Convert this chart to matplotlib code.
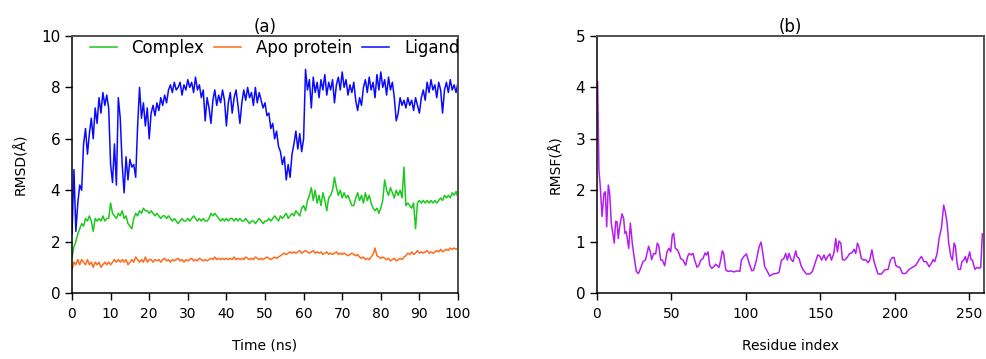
import numpy as np
import matplotlib
matplotlib.use('Agg')
from matplotlib import pyplot as plt
from matplotlib import font_manager

plt.rcParams['font.family'] = ['DejaVu Sans']

# time axis of the RMSD traces (ns), one reading every 0.5 ns
time = np.linspace(0, 100, 201)

# RMSD readings (Angstrom)
ligand = [
    2.3, 4.8, 2.4, 3.5, 4.2, 4.0, 5.8, 6.4, 5.4, 6.2,
    6.8, 6.0, 7.2, 6.6, 7.6, 7.0, 7.8, 7.3, 7.7, 7.2,
    5.0, 4.3, 5.8, 4.2, 7.6, 6.8, 5.0, 3.9, 5.3, 4.4,
    5.2, 4.9, 5.0, 4.5, 6.5, 8.0, 6.8, 7.4, 6.5, 7.2,
    6.0, 7.0, 7.3, 6.9, 7.4, 7.1, 7.6, 7.3, 7.7, 7.4,
    7.9, 8.1, 7.8, 8.2, 7.9, 8.0, 8.2, 7.7, 8.1, 7.9,
    8.3, 8.0, 8.2, 7.8, 8.4, 7.9, 8.1, 7.6, 7.9, 6.7,
    7.6, 7.2, 6.6, 7.5, 7.9, 7.3, 7.7, 7.4, 7.9, 7.5,
    6.5, 7.4, 7.8, 7.0, 7.6, 7.9, 7.3, 6.6, 7.4, 7.9,
    7.5, 8.0, 7.6, 7.8, 7.3, 8.0, 7.4, 7.8, 7.5, 7.2,
    7.4, 6.9, 7.0, 6.4, 6.6, 6.0, 6.3, 5.7, 5.5, 5.0,
    5.3, 4.4, 5.0, 4.5, 5.4, 5.8, 6.3, 5.6, 6.2, 5.5,
    6.0, 8.7, 7.9, 8.3, 7.2, 8.4, 7.8, 8.2, 7.6, 8.3,
    7.9, 8.5, 7.7, 8.2, 7.9, 8.3, 7.4, 8.1, 8.4, 7.9,
    8.6, 8.0, 8.3, 7.7, 8.1, 7.8, 8.2, 7.5, 7.1, 7.6,
    7.3, 8.0, 8.3, 7.8, 8.4, 7.9, 8.2, 7.6, 8.5, 7.9,
    8.6, 8.0, 8.3, 7.7, 8.4, 7.9, 8.2, 7.6, 6.7, 7.0,
    7.6, 7.3, 7.5, 7.2, 7.6, 7.3, 7.5, 7.1, 7.6, 7.3,
    7.0, 7.6, 7.9, 7.5, 8.2, 7.8, 8.3, 7.9, 8.1, 7.6,
    8.2, 7.9, 7.0, 7.9, 8.2, 7.8, 8.3, 7.9, 8.1, 7.8,
    8.2,
]

complex_ = [
    1.4, 1.8, 2.0, 2.3, 2.5, 2.7, 2.6, 2.9, 2.8, 3.0,
    2.8, 2.4, 2.9, 2.8, 2.9, 2.8, 3.0, 2.8, 2.9, 2.9,
    3.5, 3.1, 3.0, 2.9, 3.1, 3.0, 3.2, 2.9, 3.0, 2.7,
    2.6, 2.5, 2.9, 3.1, 3.0, 3.2, 3.1, 3.3, 3.2, 3.2,
    3.1, 3.2, 3.1, 3.0, 3.1, 3.0, 2.9, 3.0, 3.0, 2.9,
    3.0, 2.9, 2.8, 2.9, 2.8, 2.7, 2.8, 2.9, 2.8, 2.8,
    2.9, 2.8, 2.9, 3.0, 2.9, 2.8, 2.9, 2.8, 2.9, 2.8,
    2.8, 2.9, 3.1, 3.0, 3.1, 3.0, 2.9, 2.8, 2.9, 2.8,
    2.9, 2.8, 2.9, 2.9, 2.8, 2.9, 2.8, 2.9, 2.8, 2.8,
    2.9, 2.8, 2.7, 2.8, 2.8, 2.7, 2.8, 2.9, 2.8, 2.7,
    2.8, 2.8, 2.9, 2.8, 2.9, 3.0, 2.9, 2.8, 3.0, 2.9,
    3.0, 3.1, 2.9, 3.0, 3.1, 3.0, 3.2, 3.1, 3.0, 3.3,
    3.4, 3.2, 3.6, 3.8, 4.1, 3.6, 4.0, 3.5, 3.8, 3.4,
    3.9, 3.6, 3.2, 3.7, 3.8, 4.0, 4.5, 4.1, 3.8, 4.0,
    3.7, 3.9, 3.7, 3.8, 3.6, 3.4, 3.4, 3.7, 3.9, 3.6,
    3.8, 3.5, 3.9, 3.6, 3.8, 3.5, 3.3, 3.2, 3.3, 3.1,
    3.3, 3.6, 4.4, 4.0, 3.8, 4.1, 3.9, 3.7, 4.0, 3.8,
    4.0, 3.7, 4.9, 3.4, 3.5, 3.4, 3.3, 3.5, 2.5, 3.5,
    3.6, 3.5, 3.6, 3.5, 3.6, 3.5, 3.6, 3.5, 3.6, 3.5,
    3.6, 3.7, 3.6, 3.8, 3.7, 3.8, 3.7, 3.9, 3.8, 3.95,
    3.7,
]

apo = [
    0.9, 1.2, 1.1, 1.3, 1.1, 1.3, 1.2, 1.1, 1.3, 1.1,
    1.2, 1.0, 1.2, 1.1, 1.2, 1.0, 1.1, 1.2, 1.1, 1.2,
    1.1, 1.2, 1.3, 1.2, 1.3, 1.2, 1.3, 1.2, 1.3, 1.1,
    1.2, 1.3, 1.2, 1.4, 1.3, 1.2, 1.3, 1.2, 1.4, 1.2,
    1.3, 1.3, 1.2, 1.3, 1.25, 1.3, 1.2, 1.3, 1.35, 1.25,
    1.3, 1.2, 1.3, 1.25, 1.3, 1.35, 1.25, 1.3, 1.2, 1.3,
    1.25, 1.3, 1.35, 1.25, 1.3, 1.25, 1.35, 1.3, 1.25, 1.3,
    1.25, 1.3, 1.35, 1.3, 1.4, 1.3, 1.35, 1.3, 1.35, 1.3,
    1.35, 1.3, 1.35, 1.3, 1.4, 1.3, 1.35, 1.3, 1.35, 1.3,
    1.4, 1.35, 1.3, 1.35, 1.3, 1.4, 1.35, 1.3, 1.35, 1.3,
    1.35, 1.4, 1.35, 1.3, 1.35, 1.4, 1.35, 1.4, 1.45, 1.5,
    1.55, 1.5, 1.55, 1.6, 1.55, 1.6, 1.55, 1.6, 1.65, 1.55,
    1.6, 1.65, 1.6, 1.55, 1.6, 1.65, 1.55, 1.6, 1.55, 1.6,
    1.5, 1.55, 1.6, 1.5, 1.55, 1.5, 1.55, 1.6, 1.5, 1.55,
    1.5, 1.55, 1.5, 1.45, 1.5, 1.55, 1.5, 1.45, 1.5, 1.4,
    1.35, 1.4, 1.3, 1.35, 1.3, 1.4, 1.5, 1.75, 1.45, 1.4,
    1.35, 1.4, 1.35, 1.3, 1.35, 1.25, 1.3, 1.35, 1.25, 1.3,
    1.35, 1.3, 1.4, 1.45, 1.55, 1.5, 1.6, 1.5, 1.55, 1.65,
    1.55, 1.6, 1.55, 1.6, 1.65, 1.55, 1.6, 1.55, 1.6, 1.65,
    1.6, 1.7, 1.6, 1.65, 1.7, 1.65, 1.75, 1.7, 1.75, 1.7,
    1.75,
]

# RMSF readings: residue position and value (Angstrom)
rmsf_residue = [
    0.4, 1.3, 2.2, 3.4, 4.7, 5.6, 6.5, 7.6, 8.5, 9.6,
    10.8, 11.6, 12.5, 13.4, 14.3, 15.2, 16.8, 17.9, 18.8, 19.7,
    21.3, 22.4, 23.7, 24.9, 26.4, 27.8, 29.3, 30.9, 32.5, 33.8,
    34.7, 35.8, 36.7, 38.1, 39.4, 40.5, 41.4, 42.8, 43.9, 45.5,
    47.0, 48.4, 49.5, 50.6, 51.5, 52.6, 54.0, 55.1, 56.2, 57.8,
    59.6, 60.9, 62.0, 63.4, 64.5, 65.6, 67.2, 68.5, 69.7, 71.2,
    72.6, 73.5, 74.6, 75.7, 77.1, 78.4, 79.7, 80.9, 82.0, 83.1,
    84.2, 85.1, 86.5, 88.0, 90.0, 92.0, 94.0, 96.0, 97.0, 98.6,
    100.4, 102.2, 104.0, 105.3, 107.1, 108.9, 110.2, 111.1, 112.7, 114.3,
    116.0, 118.3, 120.5, 122.3, 123.9, 125.5, 126.8, 127.9, 129.0, 130.4,
    131.7, 133.5, 134.4, 135.8, 137.1, 138.5, 140.7, 143.0, 144.7, 146.5,
    148.3, 149.6, 151.0, 152.5, 153.7, 155.0, 156.4, 157.5, 159.1, 160.4,
    161.5, 162.6, 163.8, 164.9, 166.4, 168.0, 169.8, 171.2, 172.7, 173.8,
    175.0, 176.0, 177.6, 179.2, 180.5, 182.1, 183.2, 184.7, 185.9, 187.3,
    188.8, 191.1, 193.3, 195.6, 197.1, 198.5, 199.6, 200.7, 201.8, 203.4,
    205.2, 207.4, 209.7, 211.9, 214.2, 216.4, 218.0, 219.6, 221.3, 223.1,
    224.7, 225.8, 226.9, 228.5, 229.8, 231.4, 232.9, 234.0, 235.2, 236.3,
    237.7, 238.8, 239.9, 240.8, 241.9, 242.8, 244.2, 245.1, 246.4, 247.5,
    248.4, 249.6, 250.4, 251.3, 252.2, 253.1, 254.0, 255.4, 256.7, 257.8,
    258.9,
]
rmsf_value = [
    4.11, 2.4, 2.07, 1.49, 1.94, 1.97, 1.29, 2.1, 1.94, 1.36,
    1.13, 0.97, 1.39, 1.39, 1.06, 1.29, 1.54, 1.45, 1.16, 1.19,
    0.87, 1.36, 0.97, 0.71, 0.42, 0.38, 0.48, 0.61, 0.64, 0.8,
    0.91, 0.8, 0.65, 0.77, 0.76, 0.97, 0.93, 0.64, 0.64, 0.53,
    0.8, 0.87, 0.8, 1.13, 1.16, 0.87, 0.84, 0.77, 0.67, 0.64,
    0.54, 0.71, 0.77, 0.74, 0.77, 0.64, 0.5, 0.54, 0.64, 0.67,
    0.78, 0.74, 0.8, 0.54, 0.48, 0.51, 0.56, 0.53, 0.5, 0.64,
    0.82, 0.77, 0.45, 0.42, 0.43, 0.41, 0.43, 0.42, 0.64, 0.71,
    0.76, 0.58, 0.43, 0.45, 0.64, 0.9, 0.99, 0.84, 0.51, 0.43,
    0.33, 0.37, 0.38, 0.4, 0.64, 0.67, 0.77, 0.64, 0.77, 0.65,
    0.61, 0.82, 0.71, 0.67, 0.53, 0.45, 0.37, 0.37, 0.42, 0.58,
    0.74, 0.72, 0.64, 0.74, 0.64, 0.71, 0.76, 0.64, 0.77, 1.06,
    0.8, 1.01, 0.97, 0.65, 0.64, 0.69, 0.77, 0.78, 0.85, 0.77,
    0.97, 0.9, 0.67, 0.64, 0.65, 0.59, 0.64, 0.84, 0.64, 0.5,
    0.37, 0.37, 0.45, 0.46, 0.64, 0.69, 0.69, 0.54, 0.51, 0.5,
    0.38, 0.38, 0.46, 0.5, 0.54, 0.65, 0.71, 0.61, 0.61, 0.51,
    0.58, 0.65, 0.61, 0.77, 1.06, 1.26, 1.71, 1.58, 1.36, 0.97,
    0.71, 0.64, 0.97, 0.91, 0.58, 0.46, 0.46, 0.61, 0.64, 0.71,
    0.59, 0.72, 0.8, 0.65, 0.64, 0.54, 0.46, 0.5, 0.48, 0.5,
    1.15,
]

# condensed face for the x-axis texts, if one is installed
installed = {f.name for f in font_manager.fontManager.ttflist}
narrow_font = None
for name in ('Liberation Sans Narrow', 'DejaVu Sans Condensed'):
    if name in installed:
        narrow_font = name
        break
if narrow_font is not None:
    x_font = dict(family=narrow_font, size=11.5)
else:
    x_font = dict(family='DejaVu Sans', size=10)

fig = plt.figure(figsize=(9.87, 3.59), dpi=100)
ax1 = fig.add_axes([72 / 987, 66 / 359, 386 / 987, 257 / 359])
ax2 = fig.add_axes([597 / 987, 66 / 359, 387 / 987, 257 / 359])

# panel (a): RMSD
ax1.plot(time, complex_, color='#1ec81e', lw=1.1, label='Complex')
ax1.plot(time, apo, color='#ff6b1a', lw=1.1, label='Apo protein')
ax1.plot(time, ligand, color='#0a0aff', lw=1.1, label='Ligand')
ax1.set_xlim(0, 100)
ax1.set_ylim(0, 10)
ax1.set_xticks(range(0, 101, 10))
ax1.set_yticks(range(0, 11, 2))
ax1.set_ylabel('RMSD(Å)', fontsize=10, labelpad=9)
ax1.set_xlabel('Time (ns)', labelpad=13, **x_font)
ax1.set_title('(a)', fontsize=12, pad=2)
ax1.legend(ncol=3, loc='upper center', bbox_to_anchor=(0.525, 1.015),
           frameon=False, fontsize=12, handlelength=1.6,
           handletextpad=0.9, columnspacing=0.6, borderaxespad=0)

# panel (b): RMSF
ax2.plot(rmsf_residue, rmsf_value, color='#b41ef0', lw=1.1)
ax2.set_xlim(0, 260)
ax2.set_ylim(0, 5)
ax2.set_xticks(range(0, 251, 50))
ax2.set_yticks(range(0, 6))
ax2.set_ylabel('RMSF(Å)', fontsize=10, labelpad=9)
ax2.set_xlabel('Residue index', labelpad=13, **x_font)
ax2.set_title('(b)', fontsize=12, pad=2)

for ax in (ax1, ax2):
    ax.tick_params(direction='out', length=5, width=1)
    ax.tick_params(axis='y', labelsize=11)
    ax.tick_params(axis='x', pad=5, labelsize=x_font['size'],
                   labelfontfamily=x_font['family'])
    for side in ('left', 'bottom'):
        ax.spines[side].set_color('black')
        ax.spines[side].set_linewidth(1.1)
    for side in ('top', 'right'):
        ax.spines[side].set_color('#505050')
        ax.spines[side].set_linewidth(1.4)

fig.savefig('out.png', dpi=100)
